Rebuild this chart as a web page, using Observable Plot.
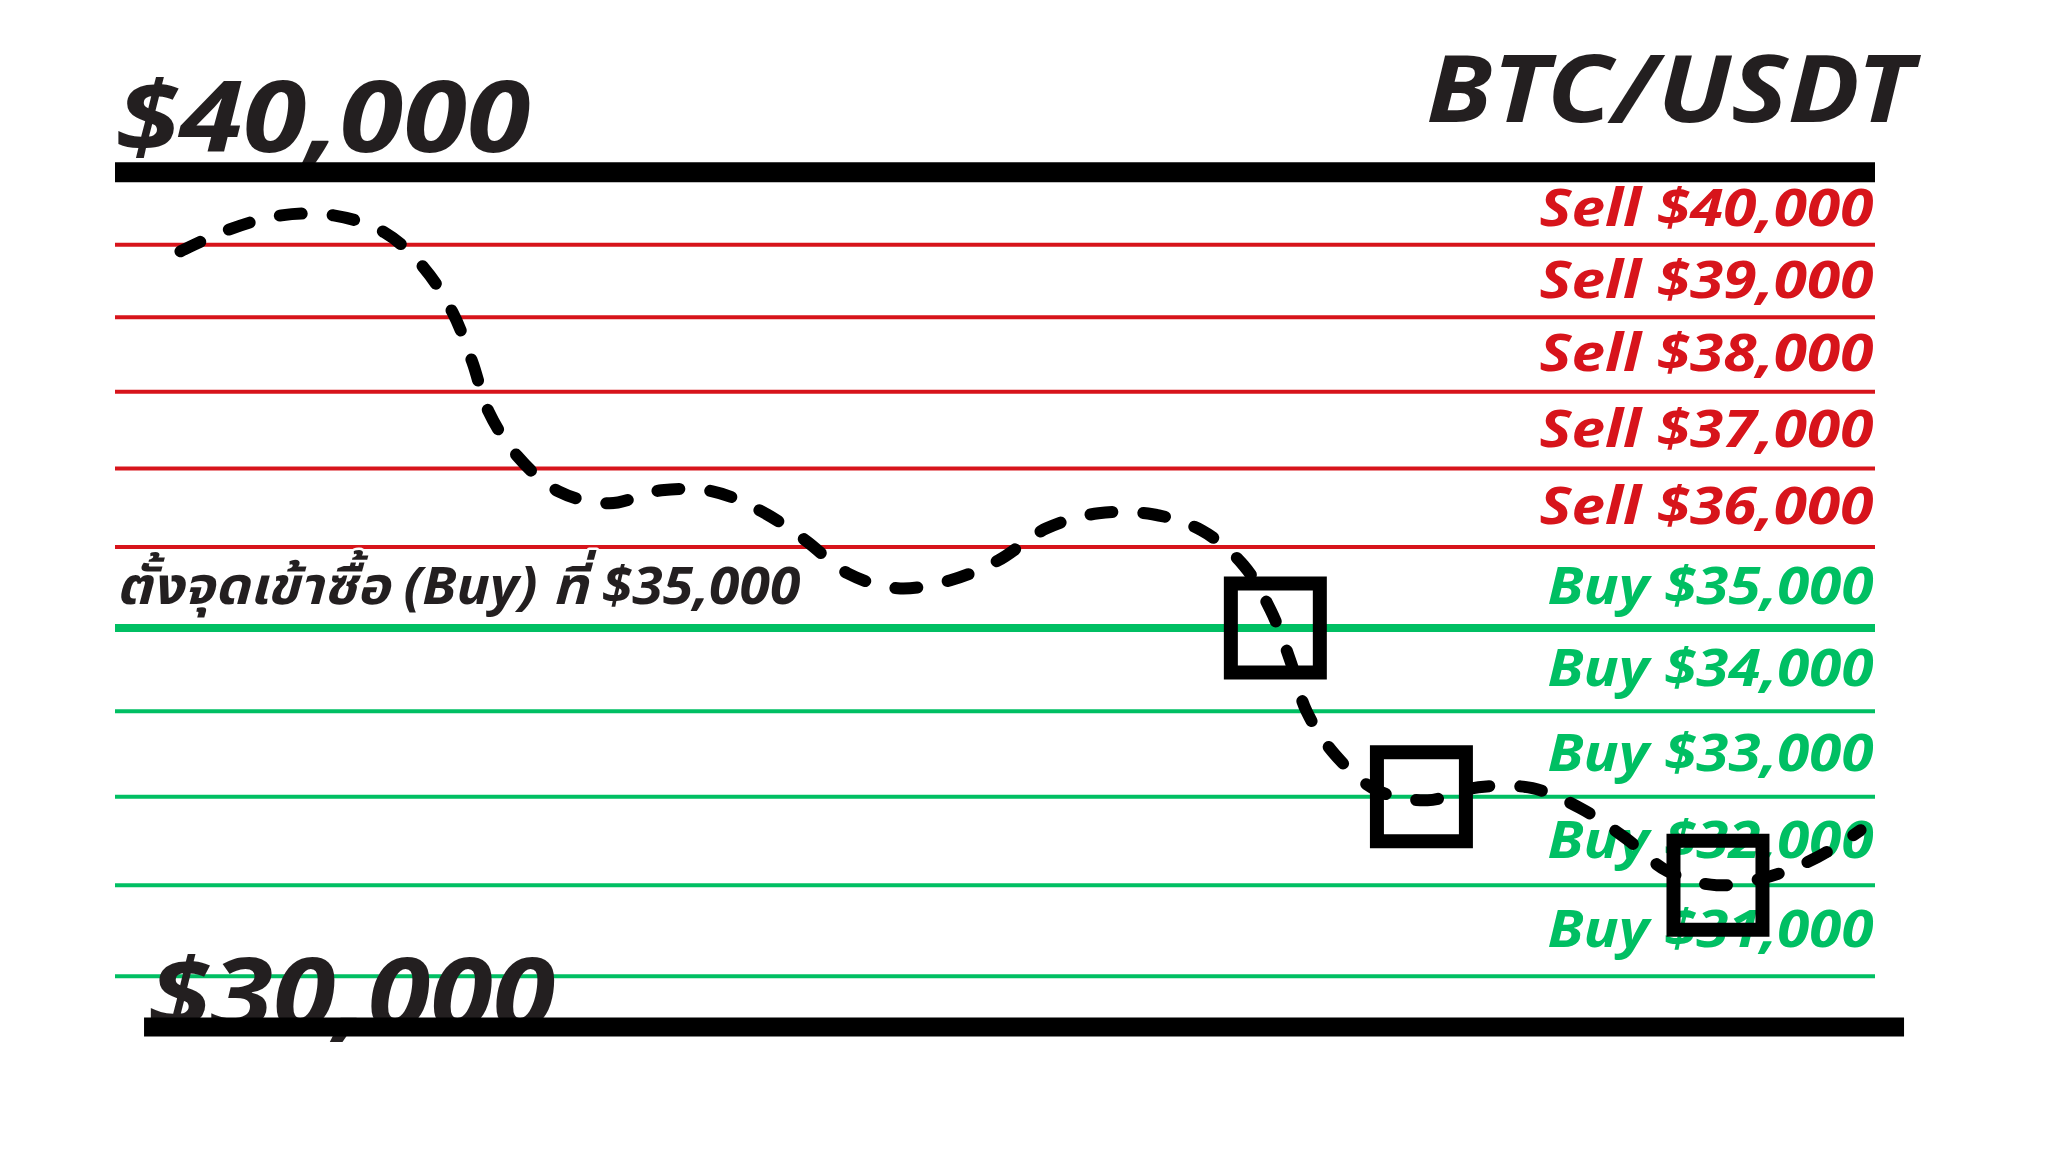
<!DOCTYPE html>
<html>
<head>
<meta charset="utf-8">
<script src="https://cdn.jsdelivr.net/npm/d3@7"></script>
<script src="https://cdn.jsdelivr.net/npm/@observablehq/plot@0.6"></script>
<style>
html, body { margin: 0; padding: 0; background: #fff; }
#chart svg { display: block; }
</style>
</head>
<body>
<div id="chart"></div>
<script>
// ---------- data ----------
const pair = "BTC/USDT";
const entryPrice = 35000;
const levelStep = 1000;
const entryText = "ตั้งจุดเข้าซื้อ (Buy) ที่";
const sellLevels = [40000, 39000, 38000, 37000, 36000];
const buyLevels = [35000, 34000, 33000, 32000, 31000];
const rangeLabels = ["$40,000", "$30,000"];
const rangePrices = [41020, 30458];
// price path (time index 0..100, price in USDT)
const curveT = [3.69, 6.48, 9.43, 12.39, 15.28, 17.5, 19.15, 20.28, 21.19, 22.84, 25.17, 28.07, 31.02, 33.92, 36.7, 39.2, 41.59, 44.43, 47.44, 50.17, 52.9, 55.85, 58.92, 61.7, 64.09, 65.63, 66.76, 67.67, 69.32, 71.65, 74.55, 77.44, 80.51, 83.24, 85.8, 88.18, 90.97, 94.03, 96.7, 99.15];
const curvePrice = [39907, 40214, 40410, 40410, 40172, 39685, 39068, 38393, 37744, 37157, 36706, 36553, 36719, 36706, 36452, 36085, 35673, 35487, 35586, 35835, 36236, 36426, 36414, 36211, 35773, 35217, 34597, 33999, 33482, 33076, 32961, 33111, 33099, 32869, 32528, 32156, 31999, 32100, 32313, 32618];
// filled buy orders
const fillT = [65.9, 74.2, 91.05];
const fillPrice = [35000, 33000, 32000];

// ---------- derived tables ----------
const curve = curveT.map((t, i) => ({t, price: curvePrice[i]}));
const fills = fillT.map((t, i) => ({t, price: fillPrice[i]}));
const fmt = d3.format("$,.0f");
// each level's label sits mid-band between its line and the level above it (log-scale midpoint)
const bandMid = d => Math.sqrt(d * Math.min(d + levelStep, rangePrices[0]));

// ---------- style ----------
const RED = "#d7141b", GREEN = "#00bf63", INK = "#231f20";
const FONT = `"Noto Sans", "Noto Sans Thai", "Noto Sans Thai UI", Lato, "DejaVu Sans", sans-serif`;
const textStyle = {fontFamily: FONT, fontStyle: "italic", fontWeight: 700, stroke: "white", strokeWidth: 5};

const chart = Plot.plot({
  width: 2048,
  height: 1152,
  marginLeft: 115,
  marginRight: 173,
  marginTop: 0,
  marginBottom: 0,
  x: {domain: [0, 100], axis: null},
  y: {type: "log", domain: [29154, 43551], axis: null},
  style: {background: "white", overflow: "visible"},
  marks: [
    // level lines
    Plot.ruleY(sellLevels, {y: d => d, x1: 0, x2: 100, stroke: RED, strokeWidth: 4}),
    Plot.ruleY(buyLevels.filter(d => d !== entryPrice), {y: d => d, x1: 0, x2: 100, stroke: GREEN, strokeWidth: 4}),
    Plot.ruleY([entryPrice], {y: d => d, x1: 0, x2: 100, stroke: GREEN, strokeWidth: 8}),
    // top range bar + labels
    Plot.text([rangePrices[0]], {...textStyle, x: 0, y: d => d, text: () => rangeLabels[0], textAnchor: "start", lineAnchor: "bottom", dy: -20, fontSize: 98, fill: INK, stroke: null}),
    Plot.text([rangePrices[0]], {...textStyle, x: 102.15, y: d => d, text: () => pair, textAnchor: "end", lineAnchor: "bottom", dy: -50, fontSize: 94, fill: INK, stroke: null}),
    Plot.ruleY([rangePrices[0]], {y: d => d, x1: 0, x2: 100, stroke: "black", strokeWidth: 20}),
    // level labels
    Plot.text(sellLevels, {...textStyle, x: 100, y: bandMid, text: d => `Sell ${fmt(d)}`, textAnchor: "end", lineAnchor: "middle", dx: -2, fontSize: 52, fill: RED}),
    Plot.text(buyLevels, {...textStyle, x: 100, y: bandMid, text: d => `Buy ${fmt(d)}`, textAnchor: "end", lineAnchor: "middle", dx: -2, fontSize: 52, fill: GREEN}),
    Plot.text([entryPrice], {...textStyle, x: 0, y: bandMid, text: d => `${entryText} ${fmt(d)}`, textAnchor: "start", lineAnchor: "middle", fontSize: 52, fill: INK}),
    // bottom range bar + label
    Plot.text([rangePrices[1]], {...textStyle, x: 1.85, y: d => d, text: () => rangeLabels[1], textAnchor: "start", lineAnchor: "bottom", dy: 2, fontSize: 98, fill: INK, stroke: null}),
    Plot.ruleY([rangePrices[1]], {y: d => d, x1: 1.65, x2: 101.65, stroke: "black", strokeWidth: 19}),
    // price path
    Plot.line(curve, {x: "t", y: "price", curve: "catmull-rom", stroke: "black", strokeWidth: 12, strokeDasharray: "22,31", strokeLinecap: "round", strokeLinejoin: "round"}),
    // filled orders
    Plot.dot(fills, {x: "t", y: "price", symbol: "square", r: 50.2, fill: "none", stroke: "black", strokeWidth: 14})
  ]
});

document.getElementById("chart").appendChild(chart);

// text halo painted beneath glyphs, and widths matched to the reference lettering
const svg = d3.select(chart);
svg.selectAll("text").style("paint-order", "stroke").attr("stroke-linejoin", "round");
function targetWidth(s) {
  if (s === rangeLabels[0]) return 415;
  if (s === rangeLabels[1]) return 407;
  if (s === pair) return 487;
  if (s.startsWith(entryText)) return 685;
  if (s.startsWith("Sell")) return 334;
  if (s.startsWith("Buy")) return 326;
  return null;
}
svg.selectAll("text").each(function() {
  const w = targetWidth(this.textContent.trim());
  if (w) d3.select(this).attr("textLength", w).attr("lengthAdjust", "spacingAndGlyphs");
});
</script>
</body>
</html>
